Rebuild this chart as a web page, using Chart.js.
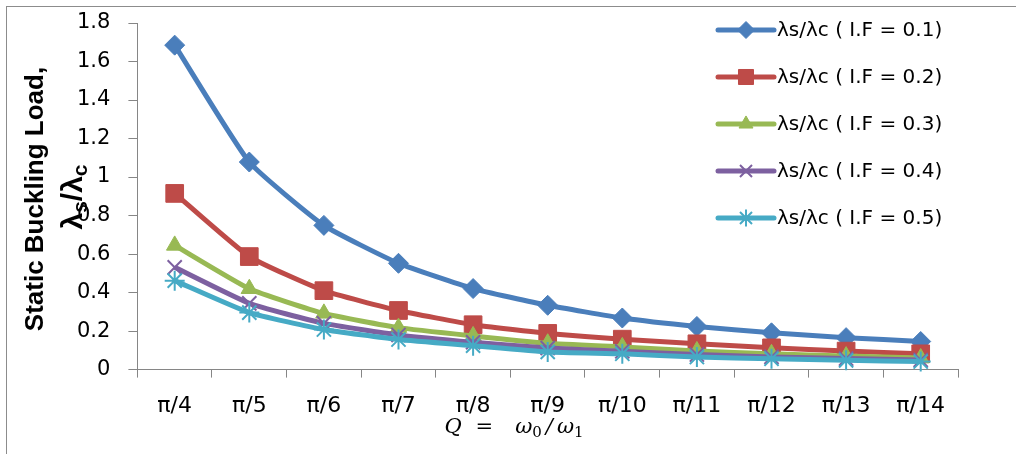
<!DOCTYPE html>
<html>
<head>
<meta charset="utf-8">
<script src="https://cdn.jsdelivr.net/npm/chart.js@4.4.1/dist/chart.umd.min.js"></script>
<style>
    html, body { margin: 0; padding: 0; background: #fff; overflow: hidden; }
    #wrap { position: relative; width: 1016px; height: 454px; }
    #frame {
        position: absolute; left: 6px; top: 6px;
        width: 1100px; height: 600px;
        border: 1px solid #8c8c8c;
    }
    #chart { position: absolute; left: 0; top: 0; }
</style>
</head>
<body>
<div id="wrap">
    <div id="frame"></div>
    <canvas id="chart" width="1016" height="454"></canvas>
</div>
<script>
// x categories (Q = w0/w1)
const categories = ["π/4", "π/5", "π/6", "π/7", "π/8", "π/9", "π/10", "π/11", "π/12", "π/13", "π/14"];

const seriesLabels = [
    "λs/λc ( I.F = 0.1)",
    "λs/λc ( I.F = 0.2)",
    "λs/λc ( I.F = 0.3)",
    "λs/λc ( I.F = 0.4)",
    "λs/λc ( I.F = 0.5)"
];

// values
const if01 = [1.685, 1.078, 0.749, 0.552, 0.421, 0.334, 0.268, 0.224, 0.191, 0.166, 0.146];
const if02 = [0.915, 0.587, 0.410, 0.307, 0.233, 0.188, 0.158, 0.134, 0.113, 0.096, 0.082];
const if03 = [0.645, 0.420, 0.292, 0.218, 0.175, 0.137, 0.118, 0.097, 0.082, 0.070, 0.060];
const if04 = [0.531, 0.344, 0.240, 0.180, 0.142, 0.112, 0.095, 0.078, 0.066, 0.057, 0.050];
const if05 = [0.462, 0.296, 0.208, 0.156, 0.124, 0.092, 0.082, 0.065, 0.056, 0.048, 0.042];

// y tick labels as in the original
const yTickLabels = ["0", "0.2", "0.4", "0.6", "0.8", "1", "1.2", "1.4", "1.6", "1.8"];
const yMin = 0;
const yMax = 1.8;
const yStep = 0.2;

const colors = ["#4A7EBB", "#BE4B48", "#98B954", "#7D60A0", "#46AAC5"];
const markers = [
    { style: "rectRot", radius: 10, border: 1 },
    { style: "rect", radius: 12.5, border: 1 },
    { style: "triangle", radius: 9.5, border: 1 },
    { style: "crossRot", radius: 10, border: 2 },
    { style: "star", radius: 10, border: 2 }
];

const allSeries = [if01, if02, if03, if04, if05];

const datasets = allSeries.map((vals, i) => ({
    label: seriesLabels[i],
    data: vals,
    borderColor: colors[i],
    backgroundColor: colors[i],
    borderWidth: 5,
    pointStyle: markers[i].style,
    pointRadius: markers[i].radius,
    pointBorderWidth: markers[i].border,
    pointBackgroundColor: colors[i],
    pointBorderColor: colors[i],
    tension: 0.15,
    clip: false,
    order: 5 - i // later series on top, like the original
}));

const AXIS_GREY = "#868686";

// draws a string made of runs (for subscripts), centred on 0
function drawRuns(ctx, runs) {
    let total = 0;
    runs.forEach(r => {
        ctx.font = r.font;
        r.w = ctx.measureText(r.text).width + (r.gap || 0);
        total += r.w;
    });
    let x = -total / 2;
    runs.forEach(r => {
        ctx.font = r.font;
        ctx.fillText(r.text, x, r.dy || 0);
        x += r.w;
    });
}

const titlesPlugin = {
    id: "titles",
    afterDraw(chart) {
        const ctx = chart.ctx;
        ctx.save();
        ctx.fillStyle = "#000";
        ctx.textBaseline = "alphabetic";
        ctx.textAlign = "left";

        // y axis title, two lines
        ctx.save();
        ctx.translate(43, 199);
        ctx.rotate(-Math.PI / 2);
        drawRuns(ctx, [{ text: "Static Buckling Load,", font: "bold 26px 'Liberation Sans'" }]);
        ctx.restore();

        ctx.save();
        ctx.translate(82, 197);
        ctx.rotate(-Math.PI / 2);
        drawRuns(ctx, [
            { text: "λ", font: "bold 30px 'Liberation Sans'" },
            { text: "s", font: "bold 21px 'Liberation Sans'", dy: 5 },
            { text: "/λ", font: "bold 30px 'Liberation Sans'" },
            { text: "c", font: "bold 21px 'Liberation Sans'", dy: 5 }
        ]);
        ctx.restore();

        // x axis title (Cambria-Math look, loosely spaced)
        ctx.save();
        ctx.translate(514, 433);
        drawRuns(ctx, [
            { text: "Q", font: "italic 21px 'DejaVu Serif'", gap: 14 },
            { text: "=", font: "21px 'DejaVu Serif'", gap: 22 },
            { text: "ω", font: "italic 21px 'DejaVu Serif'" },
            { text: "0", font: "15px 'DejaVu Serif'", dy: 4, gap: 4 },
            { text: "/", font: "italic 21px 'DejaVu Serif'", gap: 4 },
            { text: "ω", font: "italic 21px 'DejaVu Serif'" },
            { text: "1", font: "15px 'DejaVu Serif'", dy: 4 }
        ]);
        ctx.restore();

        ctx.restore();
    }
};

// legend sits inside the plot, top right
const legendPlugin = {
    id: "insideLegend",
    afterDraw(chart) {
        const ctx = chart.ctx;
        const x0 = 718, x1 = 774, top = 30, gap = 47;
        ctx.save();
        datasets.forEach((ds, i) => {
            const y = top + i * gap;
            ctx.strokeStyle = ds.borderColor;
            ctx.lineWidth = 5;
            ctx.lineCap = "round";
            ctx.beginPath();
            ctx.moveTo(x0, y);
            ctx.lineTo(x1, y);
            ctx.stroke();

            ctx.fillStyle = ds.borderColor;
            ctx.lineWidth = ds.pointBorderWidth;
            ctx.lineCap = "butt";
            Chart.helpers.drawPoint(ctx, {
                pointStyle: ds.pointStyle,
                radius: ds.pointRadius * 0.85,
                rotation: 0,
                borderWidth: ds.pointBorderWidth
            }, (x0 + x1) / 2, y);

            ctx.fillStyle = "#000";
            ctx.font = "20px 'DejaVu Sans'";
            ctx.textBaseline = "middle";
            ctx.textAlign = "left";
            ctx.fillText(ds.label, x1 + 3, y + 1);
        });
        ctx.restore();
    }
};

new Chart(document.getElementById("chart").getContext("2d"), {
    type: "line",
    data: { labels: categories, datasets },
    options: {
        responsive: false,
        animation: false,
        layout: { autoPadding: false, padding: { left: 59, right: 58, top: 23, bottom: 20 } },
        plugins: {
            legend: { display: false },
            tooltip: { enabled: false }
        },
        scales: {
            x: {
                type: "category",
                offset: true,
                border: { color: AXIS_GREY, width: 1 },
                grid: {
                    offset: true,
                    drawOnChartArea: false,
                    drawTicks: true,
                    tickLength: 8,
                    color: AXIS_GREY
                },
                ticks: {
                    color: "#000",
                    font: { family: "DejaVu Sans", size: 22 },
                    padding: 15,
                    autoSkip: false,
                    maxRotation: 0
                }
            },
            y: {
                min: yMin,
                max: yMax,
                border: { color: AXIS_GREY, width: 1 },
                grid: {
                    drawOnChartArea: false,
                    drawTicks: true,
                    tickLength: 9,
                    color: AXIS_GREY
                },
                ticks: {
                    stepSize: yStep,
                    color: "#000",
                    font: { family: "DejaVu Sans", size: 21 },
                    padding: 18,
                    callback: (v, idx) => yTickLabels[idx]
                },
                // tick padding would otherwise push the plot top down
                afterFit: (scale) => {
                    scale.paddingTop = 0;
                    scale.paddingBottom = 0;
                }
            }
        }
    },
    plugins: [titlesPlugin, legendPlugin]
});
</script>
</body>
</html>
